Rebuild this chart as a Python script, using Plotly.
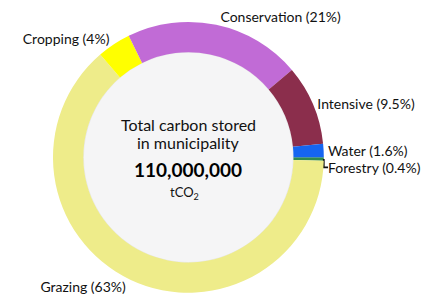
import plotly.graph_objects as go

categories = ["Forestry", "Grazing", "Cropping", "Conservation", "Intensive", "Water"]
shares = [0.4, 63, 4, 21, 9.5, 1.6]
share_labels = ["0.4%", "63%", "4%", "21%", "9.5%", "1.6%"]
colors = ["#2f8a4e", "#eeec8a", "#ffff00", "#c16bd6", "#8b2e4c", "#1565f0"]

W, H = 426, 300
cx, cy, R = 192, 160, 138
dom_x = [(cx - R) / W, (cx + R) / W]
dom_y = [1 - (cy + R) / H, 1 - (cy - R) / H]

fig = go.Figure(go.Pie(
    labels=categories,
    values=shares,
    text=[f"{c} ({p})" for c, p in zip(categories, share_labels)],
    textinfo="text",
    textposition="outside",
    hole=0.776,
    sort=False,
    direction="clockwise",
    rotation=90,
    marker=dict(colors=colors, line=dict(width=0)),
    textfont=dict(family="Lato", size=14, color="#111111"),
    domain=dict(x=dom_x, y=dom_y),
    showlegend=False,
))

ri = 107
fig.add_shape(type="circle", xref="paper", yref="paper",
              x0=(cx - ri) / W, x1=(cx + ri) / W,
              y0=1 - (cy + ri) / H, y1=1 - (cy - ri) / H,
              fillcolor="#f5f5f6", line=dict(color="#e8e8ea", width=1), layer="below")

px = cx / W
fig.add_annotation(x=px, y=1 - 127 / H, xref="paper", yref="paper", showarrow=False,
                   text="Total carbon stored", font=dict(family="Lato", size=16, color="#111"))
fig.add_annotation(x=px, y=1 - 145 / H, xref="paper", yref="paper", showarrow=False,
                   text="in municipality", font=dict(family="Lato", size=16, color="#111"))
fig.add_annotation(x=px, y=1 - 172 / H, xref="paper", yref="paper", showarrow=False,
                   text="<b>110,000,000</b>", font=dict(family="Lato", size=19, color="#000"))
fig.add_annotation(x=px - 4 / W, y=1 - 196 / H, xref="paper", yref="paper", showarrow=False,
                   text="tCO<sub>2</sub>", font=dict(family="Lato", size=13, color="#111"))

fig.update_layout(width=W, height=H, margin=dict(l=0, r=0, t=0, b=0),
                  paper_bgcolor="white", plot_bgcolor="white")
post = (
    "document.documentElement.style.margin='0';"
    "document.documentElement.style.overflow='hidden';"
    "document.body.style.margin='0';"
    "document.body.style.overflow='hidden';"
)
fig.write_html("out.html", post_script=post, config={"displayModeBar": False})
